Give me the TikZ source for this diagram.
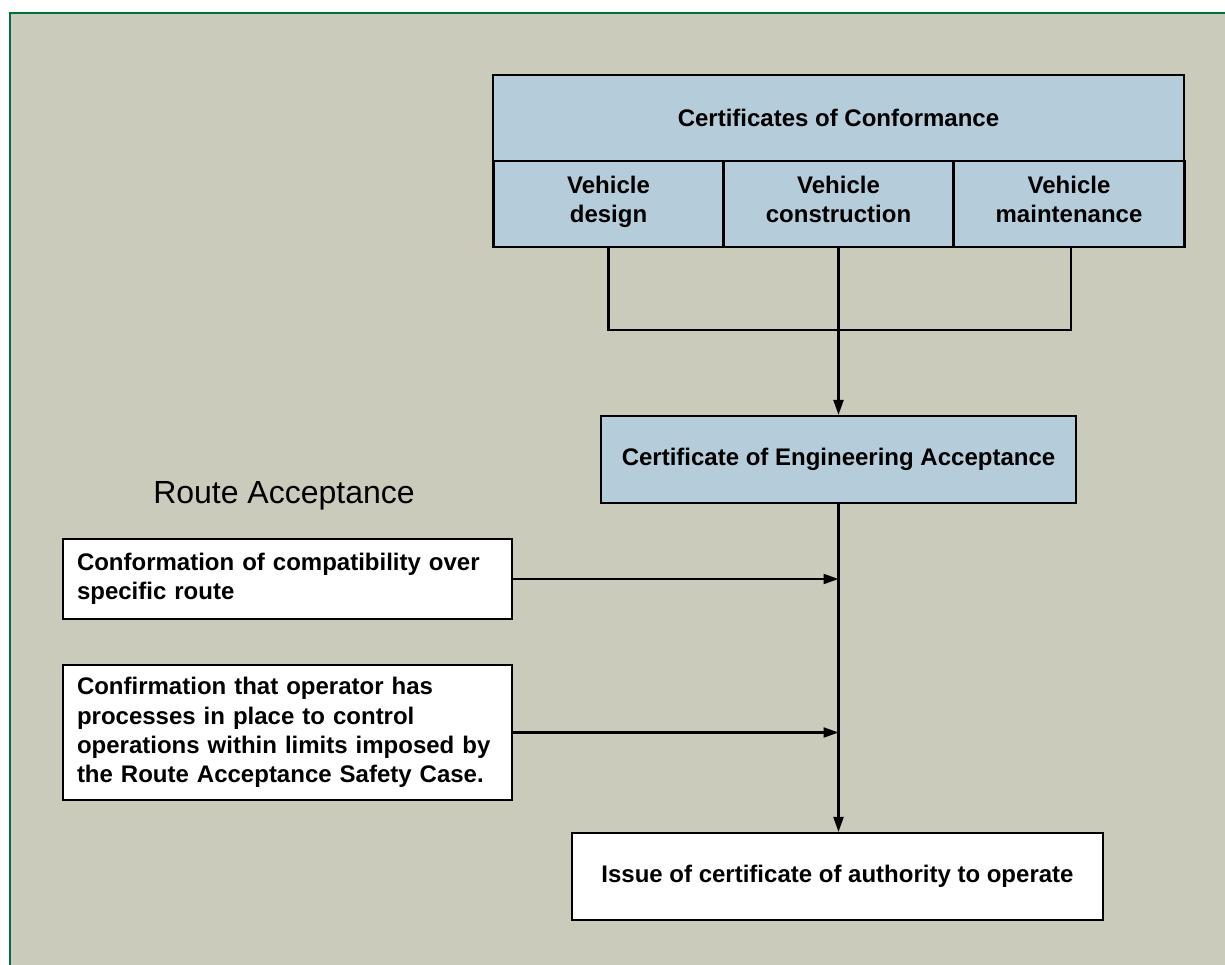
\documentclass[tikz,border=0pt]{standalone}
\usepackage{fontspec}
\setmainfont{Liberation Sans}
\usetikzlibrary{arrows.meta, calc}
\definecolor{panelGrey}{RGB}{202,203,187}
\definecolor{frameGreen}{RGB}{0,112,62}
\definecolor{certBlue}{RGB}{181,204,218}
\tikzstyle{certBox}     = [rectangle,
                           minimum width=691,
                           minimum height=86,
                           text centered,
                           align=center,
                           line width=2.2pt,
                           draw=black,
                           fill=certBlue,
                           font=\bfseries\fontsize{24}{29.3}\selectfont]
\tikzstyle{partBox}     = [certBox,
                           minimum width=230,
                           execute at begin node=\strut,
                           execute at end node=\strut]
\tikzstyle{stepBox}     = [rectangle,
                           inner xsep=14,
                           align=left,
                           line width=2.2pt,
                           draw=black,
                           fill=white,
                           font=\bfseries\fontsize{24}{29.3}\selectfont]
\tikzstyle{line}        = [line width=2.2pt]
\tikzstyle{arrow}       = [line width=2.2pt, -{Triangle[length=15pt, width=10pt]}]

\begin{document}
\begin{tikzpicture}[x=1pt, y=-1pt]
\useasboundingbox (0,0) rectangle (1225,965);
\fill [white] (0,0) rectangle (1225,965);
\fill [panelGrey] (10,13) rectangle (1260,1000);
\draw [frameGreen, line width=2.5pt] (10,1000) -- (10,13) -- (1260,13);

\node [certBox] (COC) at (838.5,118) {Certificates of Conformance};
\node [partBox] (Design)       at ([shift={(-230,86)}] COC) {Vehicle\\design};
\node [partBox] (Construction) at ([shift={(0,86)}] COC)    {Vehicle\\construction};
\node [partBox, minimum width=231] (Maintenance) at ([shift={(230.5,86)}] COC) {Vehicle\\maintenance};

\node [certBox, minimum width=475, minimum height=87] (CEA)
      at ([shift={(0,255.5)}] Construction) {Certificate of Engineering Acceptance};

\node [stepBox, text width=421, minimum height=80] (Compat) at (287.5,579) {
    Conformation of compatibility over\\
    specific route
    };
\node [stepBox, text width=421, minimum height=135] (Operator)
      at ([shift={(0,153.5)}] Compat) {
    Confirmation that operator has\\
    processes in place to control\\
    operations within limits imposed by\\
    the Route Acceptance Safety Case.
    };
\node [font=\fontsize{32}{37}\selectfont, inner sep=0] (RouteLabel)
      at ([shift={(-3.5,-83)}] Compat) {Route Acceptance};

\node [stepBox, align=center, minimum width=531, minimum height=87] (Authority)
      at ([shift={(-1,417)}] CEA) {Issue of certificate of authority to operate};

\draw [line] (Design.south) -- ++(0,82) -| ([xshift=2]Maintenance.south);
\draw [arrow] (Construction.south) -- (CEA.north);
\draw [arrow] (CEA.south) -- (CEA.south |- Authority.north);
\draw [arrow] (Compat.east) -- (Compat.east -| CEA.south);
\draw [arrow] (Operator.east) -- (Operator.east -| CEA.south);

\end{tikzpicture}
\end{document}
